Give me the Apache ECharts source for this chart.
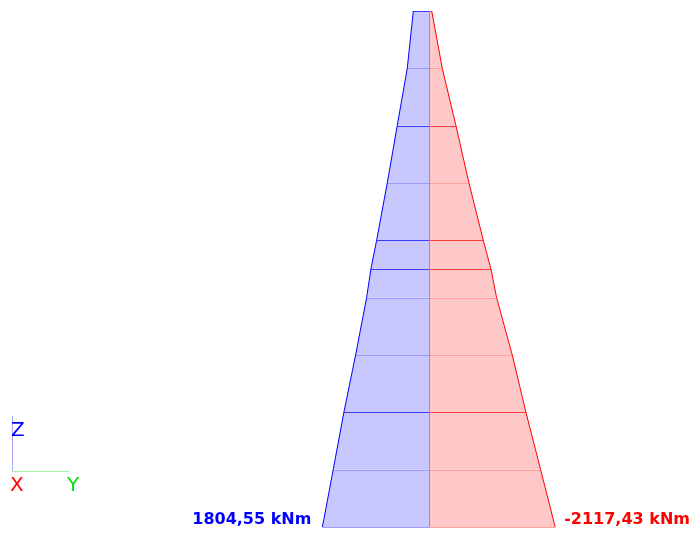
<!DOCTYPE html>
<html>
<head>
<meta charset="utf-8">
<style>
  html, body { margin: 0; padding: 0; background: #ffffff; }
  #chart { width: 697px; height: 533px; }
</style>
<script src="https://cdn.jsdelivr.net/npm/echarts@6/dist/echarts.min.js"></script>
</head>
<body>
<div id="chart"></div>
<script>
// Member stations along Z (m), bottom to top
const stations = [0, 1, 2, 3, 4, 4.5, 5, 6, 7, 8, 9];
// Bending moment at each station (kNm)
const positiveMoment = [1804.55, 1623, 1443, 1245, 1060, 987, 891, 712, 544, 375, 273];
const negativeMoment = [-2117.43, -1872, -1625, -1394, -1131, -1035, -906, -665, -446, -215, -37];
const unit = 'kNm';

// Stations whose cross-lines are drawn in full colour
const strongStations = new Set([2, 5, 6, 8, 10]);

function fmt(v) {
  return v.toFixed(2).replace('.', ',') + ' ' + unit;
}

function segments(values) {
  const out = [];
  for (let i = 0; i < stations.length - 1; i++) {
    out.push([stations[i], stations[i + 1], values[i], values[i + 1]]);
  }
  return out;
}

function fillSeries(values, color) {
  return {
    type: 'custom',
    silent: true,
    z: 1,
    data: segments(values),
    renderItem: function (params, api) {
      const z0 = api.value(0), z1 = api.value(1);
      const m0 = api.value(2), m1 = api.value(3);
      const pts = [
        api.coord([0, z0]), api.coord([m0, z0]),
        api.coord([m1, z1]), api.coord([0, z1])
      ];
      return { type: 'polygon', shape: { points: pts }, style: { fill: color } };
    }
  };
}

function stationLineSeries(values, strong, light) {
  return {
    type: 'custom',
    silent: true,
    z: 2,
    data: stations.map((s, i) => [s, values[i], i]),
    renderItem: function (params, api) {
      const a = api.coord([0, api.value(0)]);
      const b = api.coord([api.value(1), api.value(0)]);
      const y = Math.round(a[1]) + 0.5;
      return {
        type: 'line',
        shape: { x1: a[0], y1: y, x2: b[0], y2: y },
        style: { stroke: strongStations.has(api.value(2)) ? strong : light, lineWidth: 1 }
      };
    }
  };
}

// End-value label placed beside the bottom point of each diagram
function endLabelSeries(values, color, align) {
  return {
    type: 'custom',
    silent: true,
    z: 5,
    data: [[values[0], stations[0]]],
    renderItem: function (params, api) {
      const p = api.coord([api.value(0), api.value(1)]);
      return {
        type: 'text',
        x: align === 'right' ? p[0] - 11 : p[0] + 9,
        y: p[1] - 7,
        style: {
          text: fmt(api.value(0)),
          fill: color,
          font: 'bold 16px "DejaVu Sans"',
          textAlign: align,
          textVerticalAlign: 'middle'
        }
      };
    }
  };
}

function edgeSeries(values, color) {
  return {
    type: 'line',
    silent: true,
    z: 3,
    symbol: 'none',
    lineStyle: { color: color, width: 1 },
    data: stations.map((s, i) => [values[i], s])
  };
}

const chart = echarts.init(document.getElementById('chart'), null, { renderer: 'canvas' });

chart.setOption({
  animation: false,
  backgroundColor: '#ffffff',
  grid: { left: 0, right: 0, top: 11, bottom: 6 },
  xAxis: { type: 'value', inverse: true, min: -4507, max: 7237, show: false },
  yAxis: { type: 'value', min: 0, max: 9, show: false },
  series: [
    fillSeries(positiveMoment, '#c8c8ff'),
    fillSeries(negativeMoment, '#ffc8c8'),
    stationLineSeries(positiveMoment, '#3c3cff', '#9c9cff'),
    stationLineSeries(negativeMoment, '#ff3c3c', '#ff9c9c'),
    edgeSeries(positiveMoment, '#0000ff'),
    edgeSeries(negativeMoment, '#ff0000'),
    {
      type: 'line',
      silent: true,
      z: 4,
      symbol: 'none',
      lineStyle: { color: '#9890b0', width: 1 },
      data: [[0, stations[0]], [0, stations[stations.length - 1]]]
    },
    endLabelSeries(positiveMoment, '#0000ff', 'right'),
    endLabelSeries(negativeMoment, '#ff0000', 'left')
  ],
  graphic: [
    { type: 'line', shape: { x1: 12.5, y1: 416, x2: 12.5, y2: 472 }, style: { stroke: '#a8a8ff', lineWidth: 1 } },
    { type: 'line', shape: { x1: 12, y1: 471.5, x2: 69, y2: 471.5 }, style: { stroke: '#a8f0a8', lineWidth: 1 } },
    { type: 'text', left: 11, top: 421, style: { text: 'Z', fill: '#0000ff', font: '20px "DejaVu Sans"' } },
    { type: 'text', left: 10, top: 476, style: { text: 'X', fill: '#ff0000', font: '20px "DejaVu Sans"' } },
    { type: 'text', left: 67, top: 476, style: { text: 'Y', fill: '#00dd00', font: '20px "DejaVu Sans"' } }
  ]
});
</script>
</body>
</html>
